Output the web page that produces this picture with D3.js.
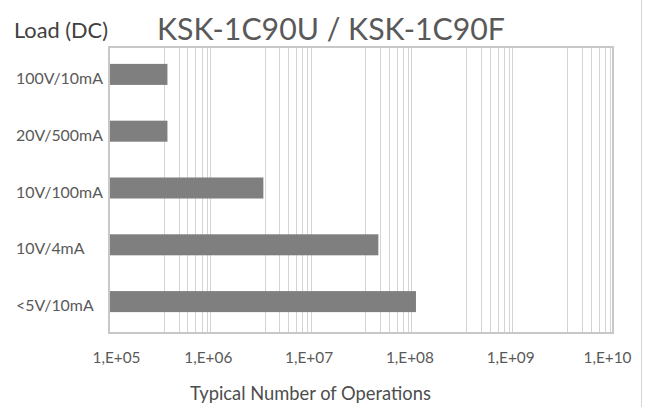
<!DOCTYPE html>
<html>
<head>
<meta charset="utf-8">
<script src="https://cdn.jsdelivr.net/npm/d3@7"></script>
<style>
  html, body { margin: 0; padding: 0; background: #fff; }
  svg { display: block; font-family: Lato, Carlito, Calibri, sans-serif; }
</style>
</head>
<body>
<svg id="chart" width="648" height="407"></svg>
<script>
// 数据
const categories = ['100V/10mA', '20V/500mA', '10V/100mA', '10V/4mA', '<5V/10mA'];
const operations = [3.8e5, 3.8e5, 3.4e6, 4.7e7, 1.11e8];
const tickValues = [1e5, 1e6, 1e7, 1e8, 1e9, 1e10];
const tickLabels = ['1,E+05', '1,E+06', '1,E+07', '1,E+08', '1,E+09', '1,E+10'];
// grid multipliers inside each decade (as drawn in the source)
const gridSteps = [3.5, 4.9, 6, 7.2, 8.3, 9.3, 10];

const svg = d3.select('#chart');
const plot = { left: 109, right: 613, top: 47, bottom: 333 };

const x = d3.scaleLog().domain([1e5, 1e10]).range([plot.left, plot.right]);
const y = d3.scaleBand()
  .domain(categories)
  .range([46, 330])
  .paddingInner(0.63)
  .paddingOuter(0.315);

// set font size so the text spans the given width
const fit = (sel, width) => {
  const base = 20;
  sel.style('font-size', `${base}px`);
  const len = sel.node().getComputedTextLength();
  const size = base * width / len;
  sel.style('font-size', `${size}px`);
  return size;
};

// sheet border on the right
svg.append('line')
  .attr('x1', 641.5).attr('x2', 641.5)
  .attr('y1', 0).attr('y2', 407)
  .attr('stroke', '#d4d4d4');

// grid
const gridVals = [];
tickValues.slice(0, -1).forEach((d, i, arr) => gridSteps.forEach(k => {
  if (!(i === arr.length - 1 && k === 10)) gridVals.push(d * k);
}));
svg.append('g')
  .selectAll('line')
  .data(gridVals)
  .join('line')
  .attr('x1', d => Math.round(x(d)) + 0.5)
  .attr('x2', d => Math.round(x(d)) + 0.5)
  .attr('y1', plot.top)
  .attr('y2', plot.bottom)
  .attr('stroke', '#d4d4d4')
  .attr('stroke-width', 1);

// bars
svg.append('g')
  .selectAll('rect')
  .data(categories)
  .join('rect')
  .attr('x', plot.left)
  .attr('y', d => y(d))
  .attr('width', (d, i) => x(operations[i]) - plot.left)
  .attr('height', y.bandwidth())
  .attr('fill', '#7f7f7f');

// plot border
svg.append('rect')
  .attr('x', plot.left)
  .attr('y', plot.top)
  .attr('width', plot.right - plot.left)
  .attr('height', plot.bottom - plot.top)
  .attr('fill', 'none')
  .attr('stroke', '#c8c8c8')
  .attr('stroke-width', 2);

// x axis labels
const xAxis = svg.append('g')
  .attr('transform', `translate(0,${plot.bottom})`)
  .call(d3.axisBottom(x)
    .tickValues(tickValues)
    .tickFormat((d, i) => tickLabels[i])
    .tickSize(0)
    .tickPadding(19));
xAxis.select('.domain').remove();
xAxis.selectAll('text')
  .attr('fill', '#595959')
  .style('font-family', 'Lato, Carlito, Calibri, sans-serif');
const tickSize = fit(xAxis.select('text'), 48);
xAxis.selectAll('text')
  .style('font-size', `${tickSize}px`)
  .attr('dx', (d, i) => (i === 0 ? 7 : i === tickValues.length - 1 ? -6 : -2));

// category labels
const yAxis = svg.append('g')
  .attr('transform', `translate(${plot.left},0)`)
  .call(d3.axisLeft(y).tickSize(0));
yAxis.select('.domain').remove();
yAxis.selectAll('text')
  .attr('x', 16 - plot.left)
  .attr('dy', '0.6em')
  .attr('text-anchor', 'start')
  .attr('fill', '#595959')
  .style('font-family', 'Lato, Carlito, Calibri, sans-serif');
const catSize = fit(yAxis.select('text'), 87);
yAxis.selectAll('text').style('font-size', `${catSize}px`);

// titles
const title = svg.append('text')
  .attr('x', 157)
  .attr('y', 40)
  .attr('fill', '#595959')
  .text('KSK-1C90U / KSK-1C90F');
fit(title, 348);

const load = svg.append('text')
  .attr('x', 14)
  .attr('y', 38)
  .attr('fill', '#404040')
  .text('Load (DC)');
fit(load, 94);

const xTitle = svg.append('text')
  .attr('x', 190)
  .attr('y', 400)
  .attr('fill', '#4d4d4d')
  .text('Typical Number of Operations');
fit(xTitle, 241);
</script>
</body>
</html>
